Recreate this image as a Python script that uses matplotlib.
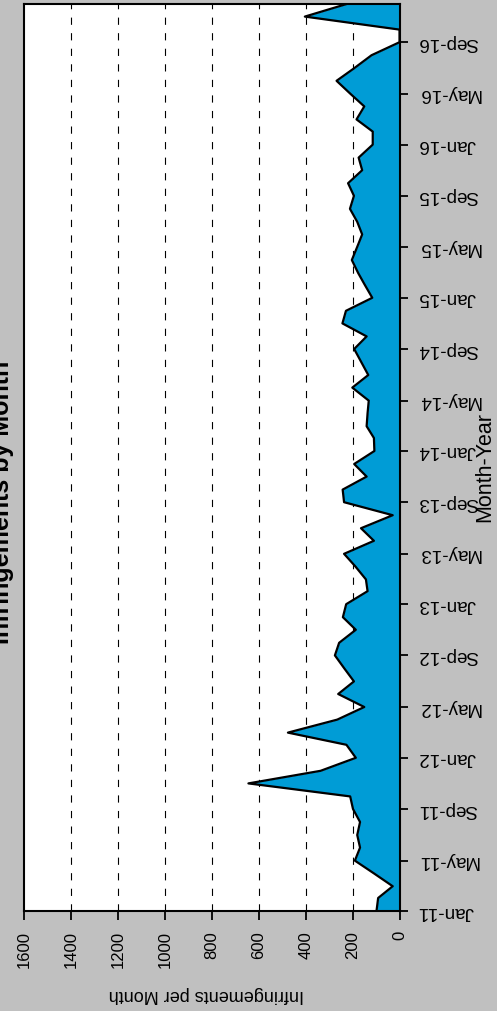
import matplotlib
matplotlib.use("Agg")
import matplotlib.pyplot as plt
import pandas as pd

plt.rcParams['font.family'] = ['Liberation Sans', 'DejaVu Sans']

# Monthly infringements, Jan-2011 .. Dec-2016
start_month = '2011-01'
values = [100, 93, 31, 112, 192, 170, 182, 170, 200, 212,
          645, 338, 188, 228, 477, 267, 152, 263, 196, 237,
          277, 259, 188, 243, 229, 138, 145, 190, 238, 111,
          166, 31, 238, 244, 142, 195, 109, 111, 142, 138,
          133, 203, 135, 165, 195, 142, 245, 230, 118, 150,
          178, 205, 183, 161, 182, 213, 196, 221, 161, 176,
          116, 116, 185, 152, 211, 270, 195, 121, 2, 2,
          405, 227]
value_ticks = [0, 200, 400, 600, 800, 1000, 1200, 1400, 1600]
title = 'Infringements by Month'
value_label = 'Infringements per Month'
date_label = 'Month-Year'

dates = pd.date_range(start_month, periods=len(values), freq='MS')
date_ticks = dates[::4]
date_tick_labels = [d.strftime('%b-%y') for d in date_ticks]

W, H = 497, 1011
fig = plt.figure(figsize=(W / 100, H / 100), dpi=100, facecolor='#c0c0c0')
left, right, top, bottom = 24, 400, 4, 911
ax = fig.add_axes([left / W, 1 - bottom / H, (right - left) / W, (bottom - top) / H])
ax.set_facecolor('white')

ax.fill_betweenx(dates, 0, values, color='#009cd6', linewidth=0, zorder=2)
ax.plot(values, dates, color='black', linewidth=1.6, zorder=3)

ax.set_xlim(1600, 0)
ax.set_ylim(dates[0], dates[-1])

for v in value_ticks[1:-1]:
    ax.axvline(v, color='black', linewidth=0.8, linestyle=(0, (6.5, 7.5)), zorder=1)

for s in ax.spines.values():
    s.set_linewidth(1.5)
    s.set_color('black')
    s.set_zorder(4)

ax.set_xticks(value_ticks)
ax.set_xticklabels([str(v) for v in value_ticks], rotation=90, va='top', ha='center', fontsize=12)
ax.tick_params(axis='x', direction='out', length=6.5, width=1.3, pad=8, colors='black')

ax.yaxis.tick_right()
ax.set_yticks(date_ticks)
ax.set_yticklabels(date_tick_labels, rotation=180, ha='left', va='center', fontsize=13.5)
ax.tick_params(axis='y', direction='out', length=5.8, width=1.3, pad=7, colors='black')

fig.text(206 / W, 1 - 994 / H, value_label, rotation=180, ha='center', va='center', fontsize=13)
fig.text(485 / W, 1 - 467 / H, date_label, rotation=90, ha='center', va='center', fontsize=15.5)
fig.text(9 / W, 1 - 502 / H, title, rotation=90, rotation_mode='anchor',
         ha='center', va='baseline', fontsize=18, fontweight='bold')

fig.savefig('out.png', dpi=100, facecolor=fig.get_facecolor())
